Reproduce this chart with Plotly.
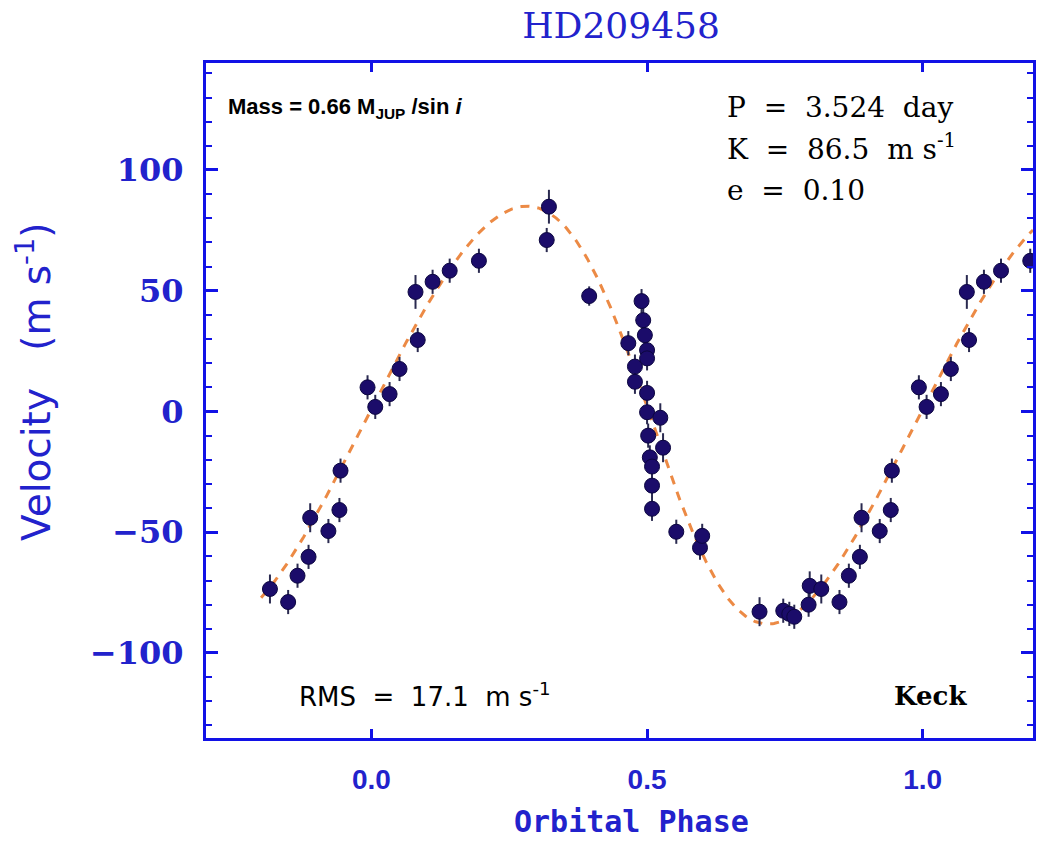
import numpy as np
import plotly.graph_objects as go

# Radial-velocity measurements folded on the orbital period (phase 0..1)
phase = [0.007, 0.033, 0.051, 0.080, 0.084, 0.111, 0.142, 0.195, 0.318, 0.322,
         0.395, 0.466, 0.478, 0.478, 0.490, 0.493, 0.496, 0.500, 0.500, 0.500,
         0.500, 0.502, 0.505, 0.509, 0.509, 0.509, 0.524, 0.529, 0.553, 0.596,
         0.600, 0.704, 0.747, 0.758, 0.767, 0.793, 0.795, 0.816, 0.849, 0.866,
         0.886, 0.889, 0.922, 0.942, 0.944, 0.993]
velocity = [1.9, 7.2, 17.6, 49.5, 29.6, 53.7, 58.3, 62.4, 71.0, 84.8,
            47.8, 28.3, 18.6, 12.3, 45.7, 37.8, 31.6, 25.4, 22.0, 7.7,
            -0.3, -10.0, -19.0, -22.8, -30.7, -40.3, -2.6, -15.0, -49.8, -56.4,
            -51.5, -82.9, -82.5, -83.8, -85.0, -80.0, -72.2, -73.5, -78.9, -68.0,
            -60.2, -44.0, -49.5, -40.8, -24.5, 10.0]
error = [5, 5, 5, 7, 5, 5, 5, 5, 5, 7,
         4, 5, 5, 5, 5, 5, 5, 5, 5, 5,
         5, 5, 5, 5, 5, 5, 6, 6, 5, 5,
         5, 6, 5, 5, 5, 5, 6, 6, 5, 5,
         5, 6, 5, 5, 5, 5]

# Orbital solution
period_days = 3.524
K = 86.5          # m/s
ecc = 0.10
omega_deg = 100.0
phase_peri = 0.528
rms = 17.1
mass = 0.66

x_min, x_max = -0.2, 1.2

# Repeat the points so the plot covers phase -0.2 .. 1.2
ph = np.array(phase)
vv = np.array(velocity)
ee = np.array(error)
xs, ys, es = [ph], [vv], [ee]
lo = ph - 1 >= x_min
hi = ph + 1 <= x_max
xs += [ph[lo] - 1, ph[hi] + 1]
ys += [vv[lo], vv[hi]]
es += [ee[lo], ee[hi]]
xp = np.concatenate(xs)
yp = np.concatenate(ys)
ep = np.concatenate(es)

# Keplerian velocity curve
def kepler_rv(phi):
    M = 2 * np.pi * (phi - phase_peri)
    E = M.copy()
    for _ in range(30):
        E = E - (E - ecc * np.sin(E) - M) / (1 - ecc * np.cos(E))
    nu = 2 * np.arctan2(np.sqrt(1 + ecc) * np.sin(E / 2), np.sqrt(1 - ecc) * np.cos(E / 2))
    w = np.radians(omega_deg)
    return K * (np.cos(nu + w) + ecc * np.cos(w))

phi_model = np.linspace(x_min, x_max, 600)
v_model = kepler_rv(phi_model)

BLUE = "#1212e6"
TXT_BLUE = "#2222cc"
DOT = "#1b0c6a"

fig = go.Figure()
fig.add_trace(go.Scatter(
    x=phi_model, y=v_model, mode="lines",
    line=dict(color="#ec8a45", width=3, dash="9px,8px"),
    hoverinfo="skip", showlegend=False))
fig.add_trace(go.Scatter(
    x=xp, y=yp, mode="markers",
    marker=dict(size=15, color=DOT, line=dict(width=1, color="#0c0640")),
    error_y=dict(type="data", array=ep, visible=True, color="#2a2a50",
                 thickness=2, width=0),
    showlegend=False))

axis_common = dict(showline=True, linewidth=3, linecolor=BLUE, mirror="ticks",
                   ticks="inside", tickcolor=BLUE, showgrid=False, zeroline=False)

fig.update_xaxes(range=[-0.3, 1.2], ticklen=9, tickwidth=3,
                 tickvals=[0.0, 0.5, 1.0], ticktext=["0.0", "0.5", "1.0"],
                 tickfont=dict(family="Liberation Sans", size=28, color=TXT_BLUE, weight="bold"),
                 ticklabelstandoff=14, **axis_common)
fig.update_yaxes(range=[-135.2, 144.3], ticklen=12, tickwidth=3,
                 tickvals=[-100, -50, 0, 50, 100],
                 ticktext=["\u2212100", "\u221250", "0", "50", "100"],
                 minor=dict(dtick=10, ticklen=6, tickwidth=2, ticks="inside", tickcolor=BLUE),
                 tickfont=dict(family="DejaVu Serif", size=32, color=TXT_BLUE, weight="bold"),
                 ticklabelstandoff=13, **axis_common)

W, H = 1037, 843
L, R, T, B = 206, 4, 63, 105
pw, phh = W - L - R, H - T - B

def px(xpix):
    return (xpix - L) / pw

def py(ypix):
    return (H - B - ypix) / phh

S2 = "&nbsp;&nbsp;"
annotations = [
    dict(text=f"Mass = {mass:.2f} M<sub>JUP</sub> /sin <i>i</i>", x=px(226), y=py(108),
         font=dict(family="Liberation Sans", size=22, color="black", weight="bold"),
         xanchor="left"),
    dict(text=f"P{S2}={S2}{period_days:.3f}{S2}day", x=px(725), y=py(107),
         font=dict(family="DejaVu Serif", size=28, color="black"), xanchor="left"),
    dict(text=f"K{S2}={S2}{K:.1f}{S2}m&nbsp;s<sup>-1</sup>", x=px(725), y=py(148),
         font=dict(family="DejaVu Serif", size=28, color="black"), xanchor="left"),
    dict(text=f"e{S2}={S2}{ecc:.2f}", x=px(725), y=py(190),
         font=dict(family="DejaVu Serif", size=28, color="black"), xanchor="left"),
    dict(text=f"RMS{S2}={S2}{rms:.1f}{S2}m&nbsp;s<sup>-1</sup>", x=px(297), y=py(695),
         font=dict(family="DejaVu Sans", size=26, color="black"), xanchor="left"),
    dict(text="Keck", x=px(892), y=py(696),
         font=dict(family="DejaVu Serif", size=26, color="black", weight="bold"), xanchor="left"),
    dict(text="Velocity&nbsp;&nbsp;&nbsp;(m&nbsp;s<sup>-1</sup>)", x=px(34), y=py(382),
         textangle=-90,
         font=dict(family="DejaVu Sans", size=39, color=TXT_BLUE), xanchor="center"),
    dict(text="Orbital Phase", x=px(631), y=py(822),
         font=dict(family="DejaVu Sans Mono", size=30, color=TXT_BLUE, weight="bold"),
         xanchor="center"),
]
for a in annotations:
    a.update(xref="paper", yref="paper", showarrow=False, yanchor="middle")

fig.update_layout(
    width=W, height=H,
    margin=dict(l=L, r=R, t=T, b=B, autoexpand=False),
    paper_bgcolor="white", plot_bgcolor="white",
    title=dict(text="HD209458", x=px(621), xref="paper", xanchor="center",
               y=1 - 25 / H, yref="container", yanchor="middle",
               font=dict(family="DejaVu Serif", size=36, color=TXT_BLUE)),
    annotations=annotations,
)

fig.write_html("out.html")
